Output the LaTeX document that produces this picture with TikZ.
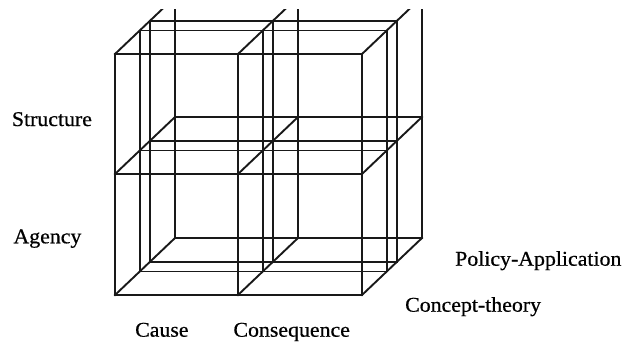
\documentclass[tikz,border=0pt]{standalone}
\usepackage{fontspec}
\setmainfont{Liberation Serif}[FakeStretch=1.04, FakeBold=0.6]
\tikzset{
  grid line/.style={line width=1.9pt, draw=black!90, line cap=rect},
  axis label/.style={font=\fontsize{21}{24}\selectfont, inner sep=0pt, anchor=base west}
}

\begin{document}
\begin{tikzpicture}[x=1pt, y=-1pt]
\useasboundingbox (0,0) rectangle (626,343);

\begin{scope}
\clip (0,9) rectangle (626,343);
% four frames, front to back
\foreach \dx/\dy in {0/0, 25/23.5, 35/33, 60/57} {
  \foreach \x in {115,238,362}
    \draw[grid line] (\x+\dx, 54-\dy) -- (\x+\dx, 295-\dy);
  \foreach \y in {54,174,295}
    \draw[grid line] (115+\dx, \y-\dy) -- (362+\dx, \y-\dy);
}
% depth edges
\foreach \x in {115,238,362}
  \foreach \y in {54,174,295}
    \draw[grid line] (\x,\y) -- ++(60,-57);
\end{scope}

\node[axis label] (structure) at (11.7,126) {Structure};
\node[axis label] (agency) at (13.3,243.3) {Agency};
\node[axis label] (policy) at (455,265.7) {Policy-Application};
\node[axis label] (concept) at (405,311.7) {Concept-theory};
\node[axis label] (cause) at (135,336.7) {Cause};
\node[axis label] (consequence) at (233.3,336.7) {Consequence};

\end{tikzpicture}
\end{document}
